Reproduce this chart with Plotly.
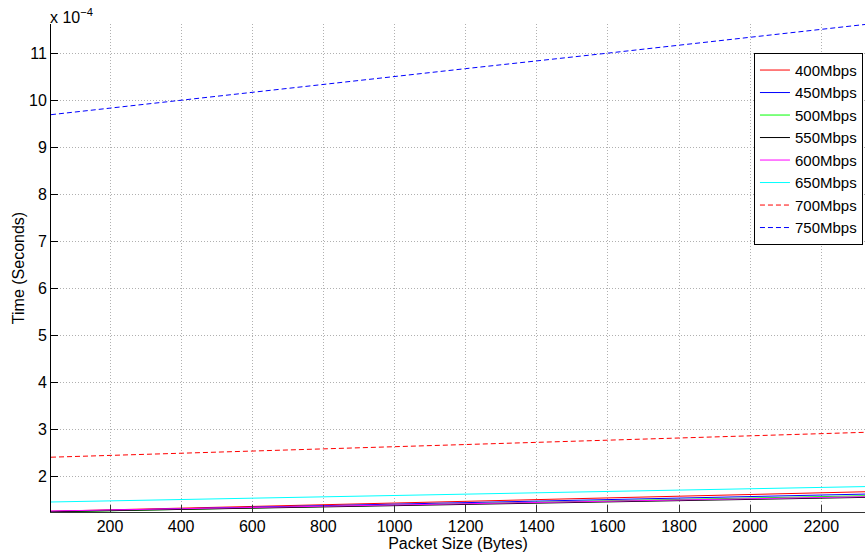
import plotly.graph_objects as go

# Packet sizes (bytes) at which values were read
packet_size = [34, 400, 800, 1200, 1600, 2000, 2323]

# Times in units of 1e-4 seconds
t_400 = [1.250, 1.316, 1.389, 1.455, 1.534, 1.606, 1.665]
t_450 = [1.245, 1.304, 1.369, 1.433, 1.498, 1.563, 1.615]
t_500 = [1.235, 1.290, 1.350, 1.410, 1.470, 1.531, 1.580]
t_550 = [1.240, 1.289, 1.342, 1.395, 1.449, 1.502, 1.545]
t_600 = [1.255, 1.304, 1.357, 1.405, 1.464, 1.517, 1.560]
t_650 = [1.447, 1.500, 1.557, 1.610, 1.672, 1.729, 1.775]
t_700 = [2.400, 2.485, 2.578, 2.670, 2.763, 2.856, 2.930]
t_750 = [9.690, 10.000, 10.340, 10.670, 11.000, 11.340, 11.610]

series = [
    ("400Mbps", t_400, "#ff0000", "solid"),
    ("450Mbps", t_450, "#0000ff", "solid"),
    ("500Mbps", t_500, "#00ff00", "solid"),
    ("550Mbps", t_550, "#000000", "solid"),
    ("600Mbps", t_600, "#ff00ff", "solid"),
    ("650Mbps", t_650, "#00ffff", "solid"),
    ("700Mbps", t_700, "#ff0000", "5px,3px"),
    ("750Mbps", t_750, "#0000ff", "5px,3px"),
]

x_ticks = [200, 400, 600, 800, 1000, 1200, 1400, 1600, 1800, 2000, 2200]
y_ticks = [2, 3, 4, 5, 6, 7, 8, 9, 10, 11]

FONT = "Liberation Sans, Arial, Helvetica, sans-serif"
GRID = "#b0b0b0"

fig = go.Figure()
for name, vals, color, dash in series:
    fig.add_trace(go.Scatter(
        x=packet_size, y=vals, mode="lines", name=name,
        line=dict(color=color, width=1, dash=dash),
    ))

fig.update_layout(
    width=865, height=552,
    margin=dict(l=51, r=0, t=24, b=40),
    paper_bgcolor="white", plot_bgcolor="white",
    font=dict(family=FONT, size=16, color="#000000"),
    showlegend=True,
    legend=dict(
        x=0.9975, xanchor="right", y=0.941, yanchor="top",
        bgcolor="white", bordercolor="#000000", borderwidth=1,
        font=dict(family=FONT, size=15, color="#000000"),
        itemwidth=30, tracegroupgap=0,
    ),
    xaxis=dict(
        range=[34, 2323], tickvals=x_ticks,
        ticks="inside", ticklen=7, tickcolor="#333333",
        showline=True, linecolor="#333333", linewidth=1,
        showgrid=True, gridcolor=GRID, griddash="1px,2px", gridwidth=1,
        zeroline=False, automargin=False,
        title=dict(text="Packet Size (Bytes)", standoff=0,
                   font=dict(family=FONT, size=16)),
        tickfont=dict(family=FONT, size=16),
    ),
    yaxis=dict(
        range=[1.234, 11.62], tickvals=y_ticks,
        ticks="inside", ticklen=7, tickcolor="#000000",
        showline=True, linecolor="#000000", linewidth=1,
        showgrid=True, gridcolor=GRID, griddash="1px,2px", gridwidth=1,
        zeroline=False, automargin=False,
        title=dict(text="Time (Seconds)", standoff=0,
                   font=dict(family=FONT, size=16)),
        tickfont=dict(family=FONT, size=16),
    ),
    annotations=[dict(
        text="x 10<sup>−4</sup>", xref="paper", yref="paper",
        x=0, y=1, xanchor="left", yanchor="bottom", showarrow=False,
        font=dict(family=FONT, size=16), xshift=-3, yshift=-4,
    )],
)

fig.write_html("out.html", config={"displayModeBar": False},
               post_script="document.body.style.margin='0';")
